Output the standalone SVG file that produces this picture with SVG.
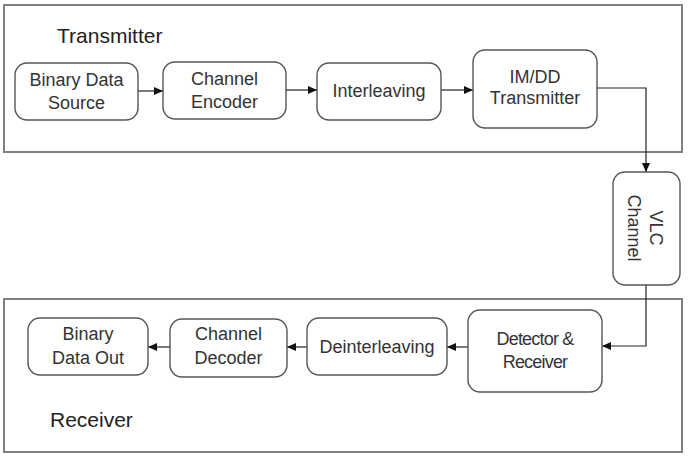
<svg xmlns="http://www.w3.org/2000/svg" width="689" height="457" viewBox="0 0 689 457">
<defs>
<marker id="ah" markerWidth="9" markerHeight="8" refX="9" refY="4" orient="auto" markerUnits="userSpaceOnUse">
<path d="M0,0 L9,4 L0,8 Z" fill="#111"/>
</marker>
<style>
.frame{fill:none;stroke:#808080;stroke-width:2}
.box{fill:#fff;stroke:#555;stroke-width:1.4}
.t{font-family:"Liberation Sans",Arial,sans-serif;font-size:18px;fill:#333;text-anchor:middle}
.title{font-family:"Liberation Sans",Arial,sans-serif;font-size:21px;fill:#222}
.c{fill:none;stroke:#222;stroke-width:1.2;marker-end:url(#ah)}
</style>
</defs>
<rect width="689" height="457" fill="#fff"/>
<g id="transmitter">
<rect class="frame" x="4" y="5" width="678" height="147"/>
<text class="title" x="57" y="43">Transmitter</text>
</g>
<g id="receiver">
<rect class="frame" x="4" y="299" width="678" height="153"/>
<text class="title" x="50" y="427">Receiver</text>
</g>
<g id="connectors">
<line class="c" x1="138" y1="91" x2="163" y2="91"/>
<line class="c" x1="286" y1="90" x2="317" y2="90"/>
<line class="c" x1="441" y1="90" x2="473" y2="90"/>
<polyline class="c" points="597,88 646,88 646,172"/>
<polyline class="c" points="646,285 646,346 602,346"/>
<line class="c" x1="468" y1="347" x2="447" y2="347"/>
<line class="c" x1="307" y1="347" x2="287" y2="347"/>
<line class="c" x1="170" y1="347" x2="148" y2="347"/>
</g>
<g id="binary-data-source">
<rect class="box" x="15" y="63" width="123" height="57" rx="12"/>
<text class="t"><tspan x="76.5" y="86">Binary Data</tspan><tspan x="76.5" y="109">Source</tspan></text>
</g>
<g id="channel-encoder">
<rect class="box" x="163" y="62" width="123" height="57" rx="12"/>
<text class="t"><tspan x="224.5" y="85">Channel</tspan><tspan x="224.5" y="108">Encoder</tspan></text>
</g>
<g id="interleaving">
<rect class="box" x="317" y="63" width="124" height="57" rx="12"/>
<text class="t" x="379" y="97">Interleaving</text>
</g>
<g id="imdd-transmitter">
<rect class="box" x="473" y="50" width="124" height="78" rx="12"/>
<text class="t"><tspan x="535" y="83">IM/DD</tspan><tspan x="535" y="104">Transmitter</tspan></text>
</g>
<g id="vlc-channel">
<rect class="box" x="613" y="172" width="67" height="113" rx="12"/>
<text class="t" transform="translate(646,228) rotate(90)"><tspan x="0" y="-4">VLC</tspan><tspan x="0" y="18">Channel</tspan></text>
</g>
<g id="detector-receiver">
<rect class="box" x="468" y="310" width="134" height="82" rx="12"/>
<text class="t" style="letter-spacing:-0.8px"><tspan x="535" y="345">Detector &amp;</tspan><tspan x="535" y="368">Receiver</tspan></text>
</g>
<g id="deinterleaving">
<rect class="box" x="307" y="318" width="140" height="57" rx="12"/>
<text class="t" x="377" y="353">Deinterleaving</text>
</g>
<g id="channel-decoder">
<rect class="box" x="170" y="319" width="117" height="58" rx="12"/>
<text class="t"><tspan x="228.5" y="340">Channel</tspan><tspan x="228.5" y="364">Decoder</tspan></text>
</g>
<g id="binary-data-out">
<rect class="box" x="28" y="318" width="120" height="57" rx="12"/>
<text class="t"><tspan x="88" y="340">Binary</tspan><tspan x="88" y="364">Data Out</tspan></text>
</g>
</svg>
